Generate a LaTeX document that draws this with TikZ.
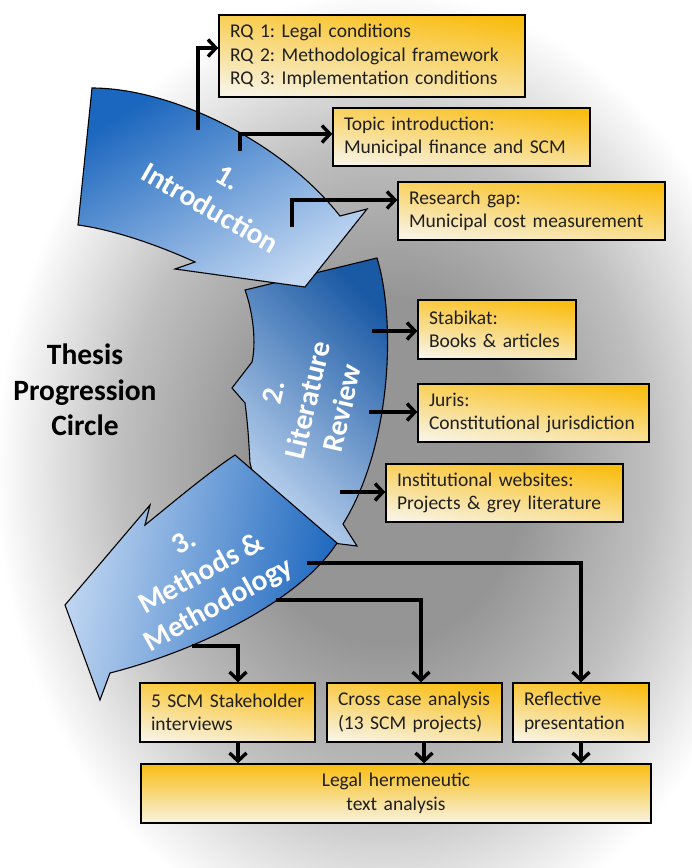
\documentclass[tikz,border=0pt]{standalone}
\usepackage{fontspec}
\setmainfont{Carlito}
\usetikzlibrary{arrows.meta}
\frenchspacing

\definecolor{boxtop}{HTML}{F9BD12}
\definecolor{boxbot}{HTML}{F8F3E2}
\definecolor{bluedark}{HTML}{1B66BE}
\definecolor{bluedeep}{HTML}{1A59A4}
\definecolor{bluelight}{HTML}{C3D8F2}
\definecolor{bgmid}{HTML}{959595}

% soft grey glow behind the whole diagram
\pgfdeclareradialshading{bgglow}{\pgfpoint{0bp}{0bp}}{%
  color(0bp)=(bgmid); color(9bp)=(bgmid); color(17bp)=(bgmid!60!white);
  color(25bp)=(white); color(50bp)=(white)}

\newcommand{\boxfont}{\fontsize{19.5}{23.5}\selectfont}
\newcommand{\bigfont}{\bfseries\fontsize{29.5}{35.5}\selectfont}

\begin{document}
\begin{tikzpicture}[x=1pt,y=-1pt,
  infobox/.style={draw=black, line width=1.4pt,
    top color=boxtop, bottom color=boxbot, shading angle=-8,
    inner xsep=11pt, inner ysep=0pt, align=left, font=\boxfont,
    text=black!88},
  phase/.style={draw=black, line width=1.1pt, line join=miter},
  phasetext/.style={text=white, align=center, font=\bigfont},
  conn/.style={line width=3.4pt, line join=miter,
    -{Straight Barb[length=8pt,width=17pt]}},
]
\useasboundingbox (0,0) rectangle (692,868);
\fill[white] (0,0) rectangle (692,868);
\shade[shading=bgglow] (385,470) ellipse [x radius=390pt, y radius=480pt];

% ---- phase 2: literature review (drawn first, the others overlap it)
\path[phase, top color=bluedeep, bottom color=bluelight, shading angle=-45]
  (245,290) -- (377,258)
  .. controls (396,320) and (392,445) .. (343,524)
  -- (357,546) -- (268,535) -- (250,463)
  .. controls (249,445) and (248,425) .. (245,403)
  -- (232,388) -- (252,362)
  .. controls (256,345) and (254,315) .. (245,290) -- cycle;

% ---- phase 1: introduction
\path[phase, top color=bluedark, bottom color=bluelight, shading angle=30]
  (92,88) .. controls (170,88) and (280,140) .. (340,216)
  -- (367,209) -- (305,287) -- (175,269) -- (195,262)
  .. controls (160,246) and (115,230) .. (78,225) -- cycle;

% ---- phase 3: methods & methodology
\path[phase, top color=bluedark, bottom color=bluelight, shading angle=-100]
  (235,455) -- (337,543)
  .. controls (300,600) and (200,650) .. (110,673)
  -- (100,700) -- (65,605) -- (150,505) -- (145,525)
  .. controls (170,505) and (205,475) .. (235,455) -- cycle;

% phase labels
\node[phasetext, rotate=-30] (t1) at (219,193) {1.\\Introduction};
\node[phasetext, rotate=77] (t2) at (308,400) {2.\\Literature\\Review};
\node[phasetext, rotate=29] (t3) at (202,575) {3.\\Methods \&\\Methodology};

% title
\node[align=center, font=\bigfont, text=black] (title) at (85,390)
  {Thesis\\Progression\\Circle};

% ---- information boxes
\node[infobox, text width=284pt, minimum height=82pt] (b1) at (372,56)
  {RQ 1: Legal conditions\\RQ 2: Methodological framework\\RQ 3: Implementation conditions};
\node[infobox, text width=235pt, minimum height=58pt] (b2) at (461.5,137)
  {Topic introduction:\\Municipal finance and SCM};
\node[infobox, text width=245pt, minimum height=58pt] (b3) at (531.5,211)
  {Research gap:\\Municipal cost measurement};
\node[infobox, text width=136pt, minimum height=59pt] (b4) at (497,329.5)
  {Stabikat:\\Books \& articles};
\node[infobox, text width=209pt, minimum height=58pt] (b5) at (533.5,413)
  {Juris:\\\mbox{Constitutional jurisdiction}};
\node[infobox, text width=215pt, minimum height=58pt] (b6) at (504.5,493)
  {Institutional websites:\\Projects \& grey literature};
\node[infobox, text width=153pt, minimum height=59pt] (b7) at (227.5,712.5)
  {\mbox{5 SCM Stakeholder}\\interviews};
\node[infobox, text width=153pt, minimum height=59pt] (b8) at (414.5,712.5)
  {\mbox{Cross case analysis}\\(13 SCM projects)};
\node[infobox, text width=114pt, minimum height=59pt] (b9) at (581,712.5)
  {Reflective\\presentation};
\node[infobox, align=center, text width=488pt, minimum height=59pt, shading angle=0] (b10) at (396,793.5)
  {Legal hermeneutic\\text analysis};

% ---- connector start points inside the phase arrows
\coordinate (s1) at (198,130);
\coordinate (s2) at (240,151);
\coordinate (s3) at (292,227);
\coordinate (s4) at (372,331);
\coordinate (s5) at (369,412);
\coordinate (s6) at (340,492);
\coordinate (s7) at (192,646);
\coordinate (s8) at (276,600);
\coordinate (s9) at (307,563);

\draw[conn] (s1) |- ([yshift=8pt]b1.west);
\draw[conn] (s2) |- ([yshift=3pt]b2.west);
\draw[conn] (s3) |- ([yshift=11pt]b3.west);
\draw[conn] (s4) -- (s4 -| b4.west);
\draw[conn] (s5) -- (s5 -| b5.west);
\draw[conn] (s6) -- (s6 -| b6.west);
\draw[conn] (s7) -| ([xshift=10.5pt]b7.north);
\draw[conn] (s8) -| ([xshift=6.5pt]b8.north);
\draw[conn] (s9) -| (b9.north);

\draw[conn] ([xshift=10.5pt]b7.south) -- ([xshift=10.5pt]b7.south |- b10.north);
\draw[conn] ([xshift=9.5pt]b8.south) -- ([xshift=9.5pt]b8.south |- b10.north);
\draw[conn] (b9.south) -- (b9.south |- b10.north);
\end{tikzpicture}
\end{document}
